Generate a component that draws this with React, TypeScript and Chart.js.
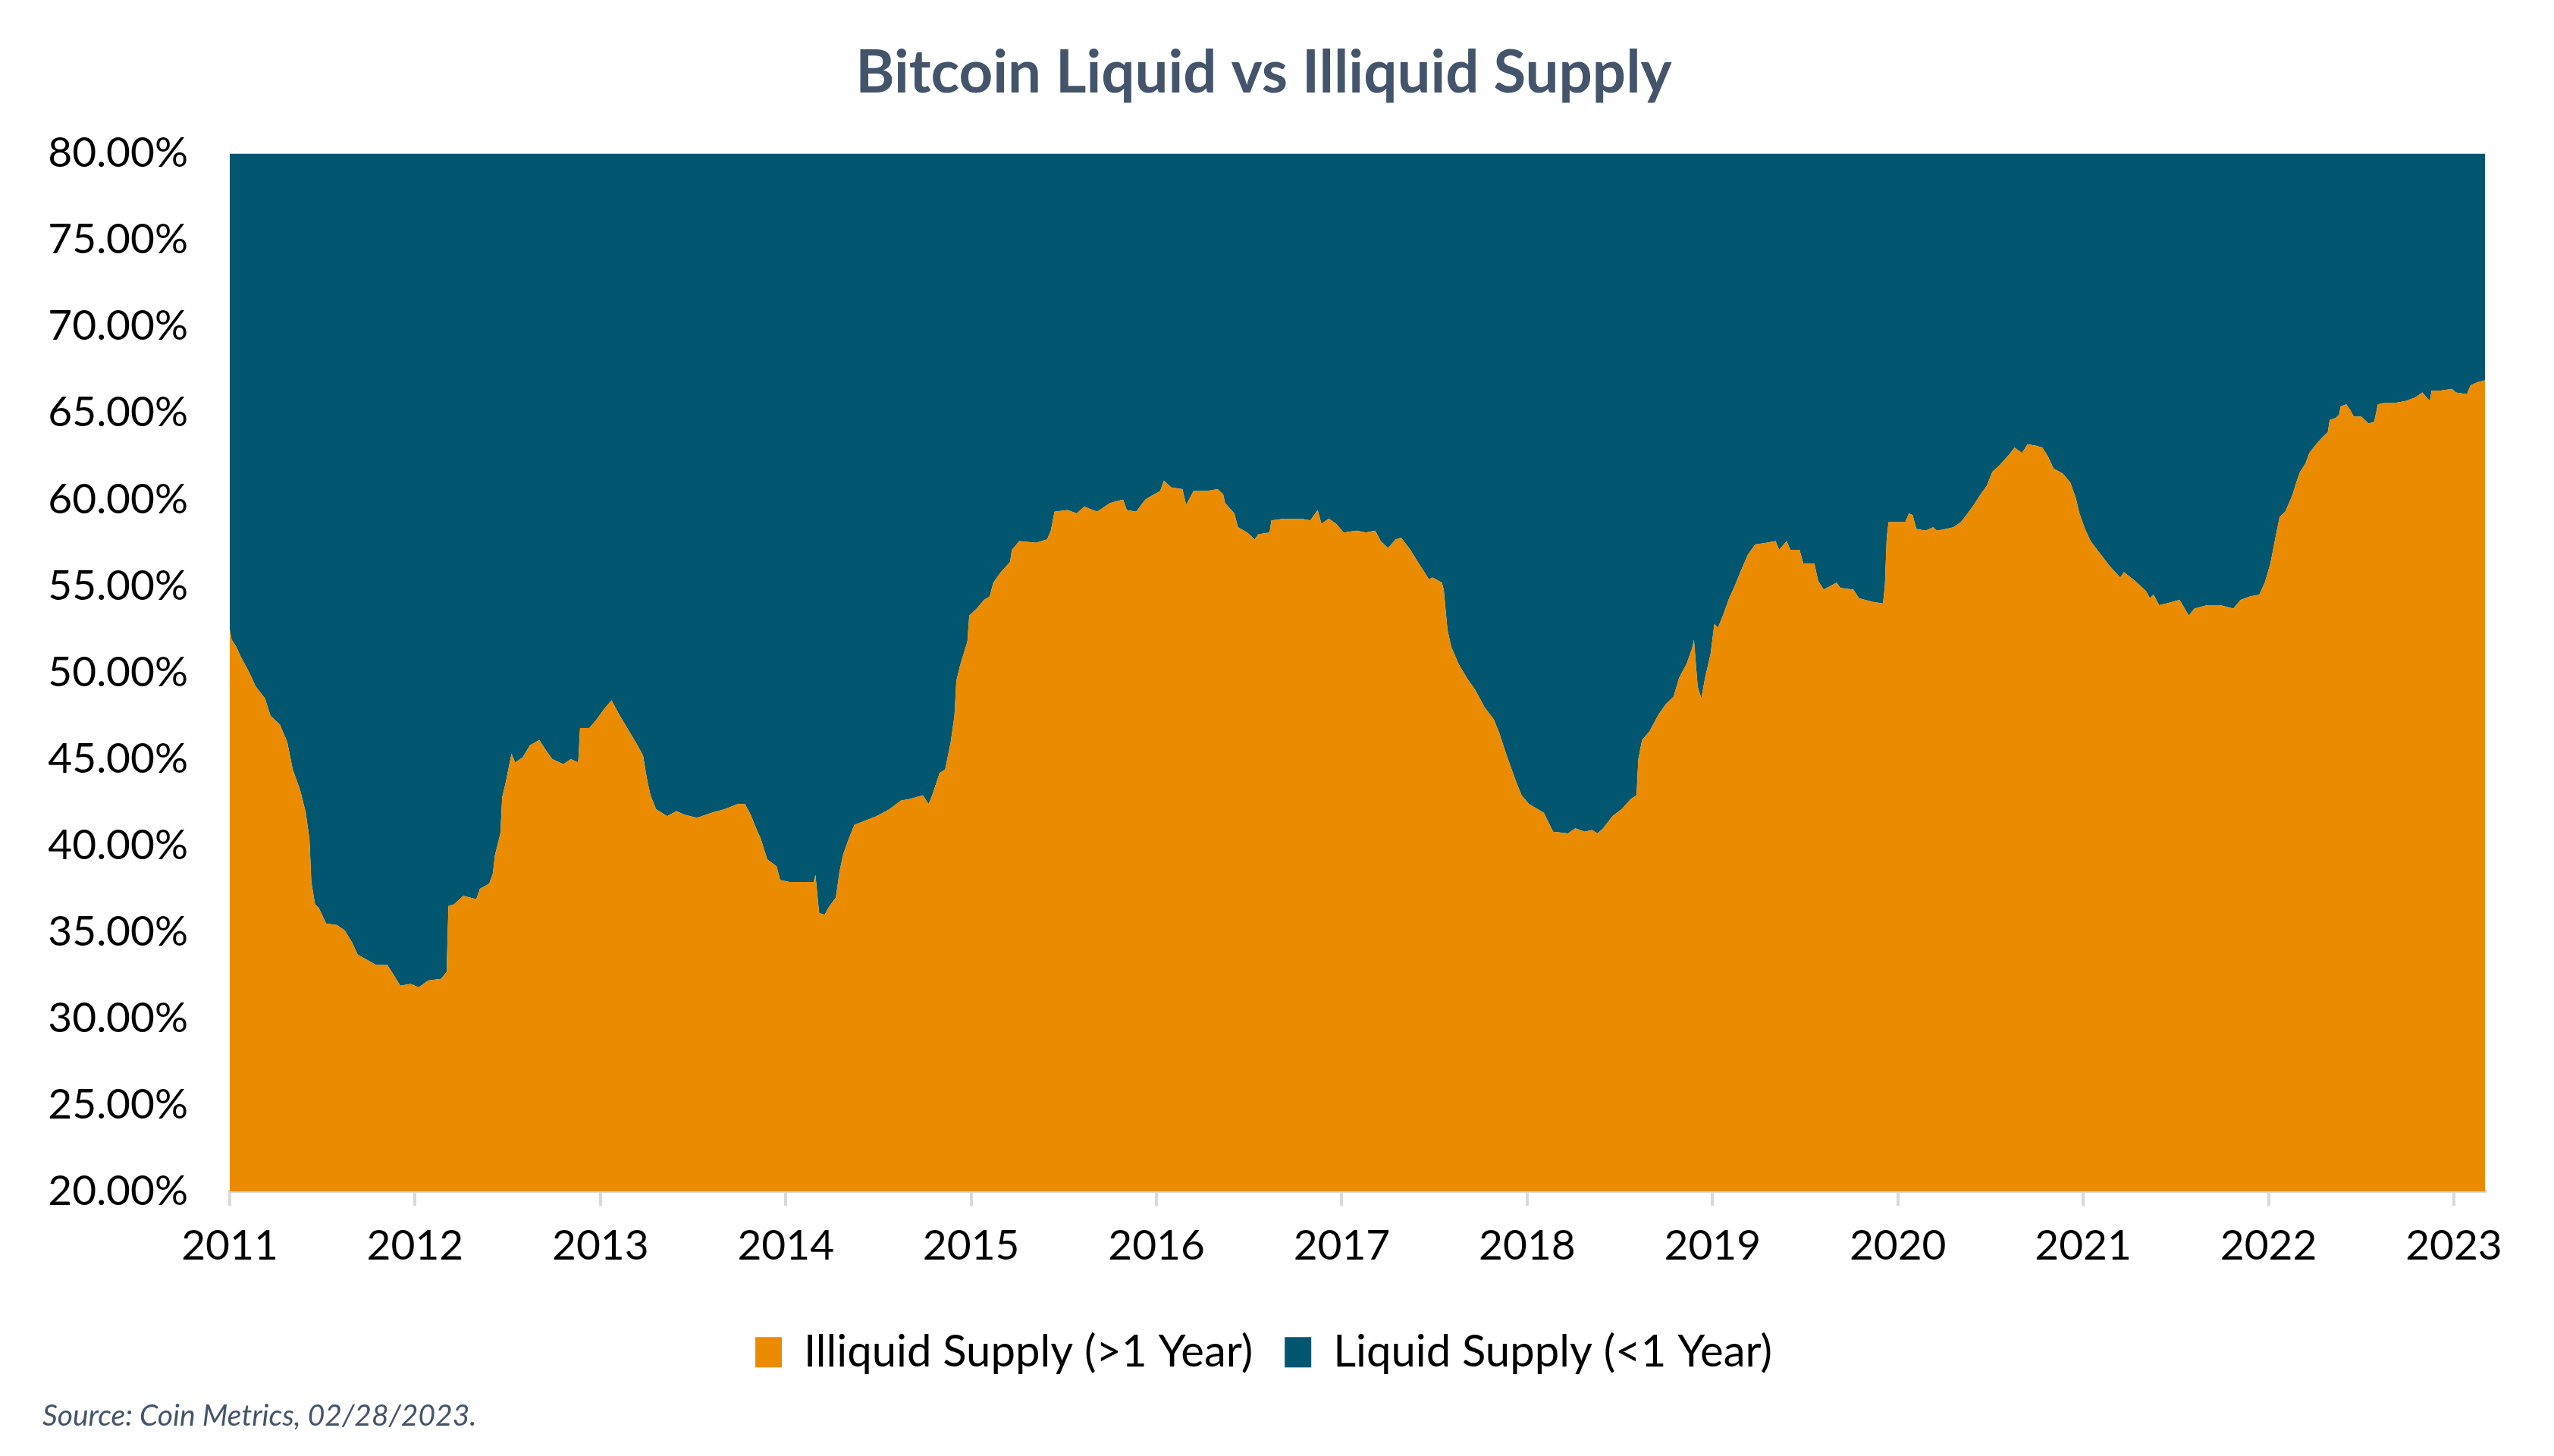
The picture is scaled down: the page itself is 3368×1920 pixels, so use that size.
import React, { useEffect, useRef } from "react";
import { Chart, registerables } from "chart.js";

Chart.register(...registerables);

const chartTitle = "Bitcoin Liquid vs Illiquid Supply";
const sourceNote = "Source: Coin Metrics, 02/28/2023.";
const seriesLabels = ["Illiquid Supply (>1 Year)", "Liquid Supply (<1 Year)"];
const yearTicks = [2011, 2012, 2013, 2014, 2015, 2016, 2017, 2018, 2019, 2020, 2021, 2022, 2023];

// Time positions in decimal years (2011.0 = 1 Jan 2011)
const yearPositions = [
  2011.000, 2011.010, 2011.035, 2011.060, 2011.106, 2011.140, 2011.190, 2011.220, 2011.270, 2011.310,
  2011.340, 2011.380, 2011.410, 2011.430, 2011.440, 2011.460, 2011.480, 2011.520, 2011.580, 2011.620,
  2011.660, 2011.690, 2011.740, 2011.790, 2011.850, 2011.880, 2011.920, 2011.976, 2012.020, 2012.070,
  2012.140, 2012.170, 2012.180, 2012.210, 2012.260, 2012.330, 2012.350, 2012.400, 2012.420, 2012.430,
  2012.460, 2012.470, 2012.490, 2012.520, 2012.540, 2012.580, 2012.620, 2012.670, 2012.700, 2012.740,
  2012.800, 2012.840, 2012.880, 2012.890, 2012.940, 2012.980, 2013.020, 2013.060, 2013.100, 2013.150,
  2013.200, 2013.230, 2013.250, 2013.270, 2013.300, 2013.360, 2013.410, 2013.450, 2013.520, 2013.600,
  2013.670, 2013.740, 2013.780, 2013.810, 2013.840, 2013.865, 2013.900, 2013.950, 2013.970, 2014.020,
  2014.090, 2014.150, 2014.160, 2014.180, 2014.210, 2014.230, 2014.270, 2014.290, 2014.310, 2014.340,
  2014.370, 2014.420, 2014.490, 2014.560, 2014.620, 2014.670, 2014.740, 2014.770, 2014.790, 2014.830,
  2014.860, 2014.890, 2014.910, 2014.920, 2014.940, 2014.960, 2014.980, 2014.990, 2015.030, 2015.070,
  2015.100, 2015.120, 2015.160, 2015.210, 2015.220, 2015.260, 2015.350, 2015.410, 2015.430, 2015.450,
  2015.520, 2015.570, 2015.610, 2015.680, 2015.750, 2015.820, 2015.840, 2015.890, 2015.940, 2015.970,
  2016.020, 2016.040, 2016.080, 2016.140, 2016.160, 2016.200, 2016.270, 2016.330, 2016.360, 2016.370,
  2016.420, 2016.440, 2016.490, 2016.530, 2016.550, 2016.610, 2016.620, 2016.690, 2016.780, 2016.830,
  2016.870, 2016.890, 2016.930, 2016.970, 2017.010, 2017.080, 2017.130, 2017.180, 2017.210, 2017.250,
  2017.290, 2017.320, 2017.370, 2017.410, 2017.440, 2017.470, 2017.490, 2017.540, 2017.550, 2017.570,
  2017.590, 2017.630, 2017.680, 2017.720, 2017.770, 2017.820, 2017.850, 2017.890, 2017.940, 2017.970,
  2018.010, 2018.090, 2018.140, 2018.220, 2018.260, 2018.310, 2018.350, 2018.380, 2018.410, 2018.460,
  2018.510, 2018.560, 2018.590, 2018.600, 2018.620, 2018.660, 2018.710, 2018.750, 2018.790, 2018.820,
  2018.860, 2018.890, 2018.900, 2018.920, 2018.940, 2018.960, 2018.990, 2019.010, 2019.030, 2019.060,
  2019.090, 2019.120, 2019.150, 2019.190, 2019.230, 2019.290, 2019.340, 2019.360, 2019.400, 2019.420,
  2019.470, 2019.490, 2019.550, 2019.570, 2019.600, 2019.670, 2019.690, 2019.760, 2019.790, 2019.860,
  2019.920, 2019.930, 2019.940, 2019.950, 2020.040, 2020.060, 2020.080, 2020.100, 2020.150, 2020.190,
  2020.210, 2020.260, 2020.300, 2020.340, 2020.370, 2020.410, 2020.440, 2020.480, 2020.510, 2020.550,
  2020.600, 2020.630, 2020.670, 2020.700, 2020.750, 2020.780, 2020.810, 2020.840, 2020.890, 2020.930,
  2020.960, 2020.980, 2021.010, 2021.040, 2021.090, 2021.140, 2021.200, 2021.220, 2021.280, 2021.340,
  2021.360, 2021.380, 2021.410, 2021.450, 2021.520, 2021.570, 2021.600, 2021.670, 2021.740, 2021.810,
  2021.850, 2021.900, 2021.950, 2021.980, 2022.010, 2022.030, 2022.060, 2022.090, 2022.115, 2022.130,
  2022.150, 2022.170, 2022.200, 2022.220, 2022.250, 2022.290, 2022.320, 2022.330, 2022.360, 2022.380,
  2022.390, 2022.420, 2022.440, 2022.460, 2022.500, 2022.540, 2022.570, 2022.590, 2022.630, 2022.690,
  2022.740, 2022.790, 2022.830, 2022.870, 2022.880, 2022.930, 2022.990, 2023.010, 2023.070, 2023.090,
  2023.130, 2023.168,
];

// Illiquid supply share (%)
const illiquidSupply = [
  52.5, 51.9, 51.5, 50.9, 50.0, 49.2, 48.5, 47.5, 47.0, 46.0,
  44.4, 43.2, 41.9, 40.4, 37.9, 36.6, 36.4, 35.5, 35.4, 35.1,
  34.4, 33.7, 33.4, 33.1, 33.1, 32.6, 31.9, 32.0, 31.8, 32.2,
  32.3, 32.7, 36.5, 36.6, 37.1, 36.9, 37.5, 37.8, 38.4, 39.4,
  40.7, 42.8, 43.7, 45.3, 44.8, 45.1, 45.8, 46.1, 45.6, 45.0,
  44.7, 45.0, 44.8, 46.8, 46.8, 47.3, 47.9, 48.4, 47.6, 46.7,
  45.8, 45.2, 43.9, 42.9, 42.1, 41.7, 42.0, 41.8, 41.6, 41.9,
  42.1, 42.4, 42.4, 41.8, 41.0, 40.4, 39.2, 38.8, 38.0, 37.9,
  37.9, 37.9, 38.3, 36.1, 36.0, 36.4, 37.0, 38.5, 39.5, 40.4,
  41.2, 41.4, 41.7, 42.1, 42.6, 42.7, 42.9, 42.4, 42.9, 44.2,
  44.4, 46.0, 47.5, 49.5, 50.4, 51.1, 51.8, 53.3, 53.7, 54.2,
  54.4, 55.2, 55.8, 56.4, 57.1, 57.6, 57.5, 57.7, 58.2, 59.3,
  59.4, 59.2, 59.6, 59.3, 59.8, 60.0, 59.4, 59.3, 60.0, 60.2,
  60.5, 61.1, 60.7, 60.6, 59.7, 60.5, 60.5, 60.6, 60.3, 59.8,
  59.2, 58.4, 58.1, 57.7, 58.0, 58.1, 58.8, 58.9, 58.9, 58.8,
  59.4, 58.6, 58.9, 58.6, 58.1, 58.2, 58.1, 58.2, 57.6, 57.2,
  57.7, 57.8, 57.1, 56.4, 55.9, 55.4, 55.5, 55.2, 54.8, 52.5,
  51.5, 50.5, 49.6, 49.0, 48.0, 47.3, 46.5, 45.2, 43.7, 42.9,
  42.4, 41.9, 40.8, 40.7, 41.0, 40.8, 40.9, 40.7, 41.0, 41.7,
  42.1, 42.7, 42.9, 45.0, 46.1, 46.6, 47.6, 48.2, 48.6, 49.7,
  50.5, 51.4, 51.9, 49.2, 48.5, 49.7, 51.1, 52.8, 52.6, 53.4,
  54.3, 55.0, 55.8, 56.8, 57.4, 57.5, 57.6, 57.1, 57.6, 57.1,
  57.1, 56.3, 56.3, 55.3, 54.8, 55.2, 54.9, 54.8, 54.3, 54.1,
  54.0, 55.0, 57.8, 58.7, 58.7, 59.2, 59.1, 58.3, 58.2, 58.4,
  58.2, 58.3, 58.4, 58.7, 59.1, 59.7, 60.2, 60.8, 61.6, 62.0,
  62.6, 63.0, 62.7, 63.2, 63.1, 63.0, 62.5, 61.8, 61.5, 61.0,
  60.1, 59.2, 58.3, 57.6, 56.9, 56.2, 55.5, 55.8, 55.3, 54.7,
  54.3, 54.5, 53.9, 54.0, 54.2, 53.3, 53.7, 53.9, 53.9, 53.7,
  54.2, 54.4, 54.5, 55.2, 56.3, 57.4, 59.0, 59.3, 59.9, 60.3,
  61.0, 61.6, 62.1, 62.7, 63.1, 63.6, 63.9, 64.6, 64.7, 64.9,
  65.4, 65.5, 65.2, 64.8, 64.8, 64.4, 64.5, 65.5, 65.6, 65.6,
  65.7, 65.9, 66.2, 65.7, 66.3, 66.3, 66.4, 66.2, 66.1, 66.6,
  66.8, 66.9,
];

// Liquid supply share (%), stacked on top of the illiquid share
const liquidSupply = [
  47.5, 48.1, 48.5, 49.1, 50.0, 50.8, 51.5, 52.5, 53.0, 54.0,
  55.6, 56.8, 58.1, 59.6, 62.1, 63.4, 63.6, 64.5, 64.6, 64.9,
  65.6, 66.3, 66.6, 66.9, 66.9, 67.4, 68.1, 68.0, 68.2, 67.8,
  67.7, 67.3, 63.5, 63.4, 62.9, 63.1, 62.5, 62.2, 61.6, 60.6,
  59.3, 57.2, 56.3, 54.7, 55.2, 54.9, 54.2, 53.9, 54.4, 55.0,
  55.3, 55.0, 55.2, 53.2, 53.2, 52.7, 52.1, 51.6, 52.4, 53.3,
  54.2, 54.8, 56.1, 57.1, 57.9, 58.3, 58.0, 58.2, 58.4, 58.1,
  57.9, 57.6, 57.6, 58.2, 59.0, 59.6, 60.8, 61.2, 62.0, 62.1,
  62.1, 62.1, 61.7, 63.9, 64.0, 63.6, 63.0, 61.5, 60.5, 59.6,
  58.8, 58.6, 58.3, 57.9, 57.4, 57.3, 57.1, 57.6, 57.1, 55.8,
  55.6, 54.0, 52.5, 50.5, 49.6, 48.9, 48.2, 46.7, 46.3, 45.8,
  45.6, 44.8, 44.2, 43.6, 42.9, 42.4, 42.5, 42.3, 41.8, 40.7,
  40.6, 40.8, 40.4, 40.7, 40.2, 40.0, 40.6, 40.7, 40.0, 39.8,
  39.5, 38.9, 39.3, 39.4, 40.3, 39.5, 39.5, 39.4, 39.7, 40.2,
  40.8, 41.6, 41.9, 42.3, 42.0, 41.9, 41.2, 41.1, 41.1, 41.2,
  40.6, 41.4, 41.1, 41.4, 41.9, 41.8, 41.9, 41.8, 42.4, 42.8,
  42.3, 42.2, 42.9, 43.6, 44.1, 44.6, 44.5, 44.8, 45.2, 47.5,
  48.5, 49.5, 50.4, 51.0, 52.0, 52.7, 53.5, 54.8, 56.3, 57.1,
  57.6, 58.1, 59.2, 59.3, 59.0, 59.2, 59.1, 59.3, 59.0, 58.3,
  57.9, 57.3, 57.1, 55.0, 53.9, 53.4, 52.4, 51.8, 51.4, 50.3,
  49.5, 48.6, 48.1, 50.8, 51.5, 50.3, 48.9, 47.2, 47.4, 46.6,
  45.7, 45.0, 44.2, 43.2, 42.6, 42.5, 42.4, 42.9, 42.4, 42.9,
  42.9, 43.7, 43.7, 44.7, 45.2, 44.8, 45.1, 45.2, 45.7, 45.9,
  46.0, 45.0, 42.2, 41.3, 41.3, 40.8, 40.9, 41.7, 41.8, 41.6,
  41.8, 41.7, 41.6, 41.3, 40.9, 40.3, 39.8, 39.2, 38.4, 38.0,
  37.4, 37.0, 37.3, 36.8, 36.9, 37.0, 37.5, 38.2, 38.5, 39.0,
  39.9, 40.8, 41.7, 42.4, 43.1, 43.8, 44.5, 44.2, 44.7, 45.3,
  45.7, 45.5, 46.1, 46.0, 45.8, 46.7, 46.3, 46.1, 46.1, 46.3,
  45.8, 45.6, 45.5, 44.8, 43.7, 42.6, 41.0, 40.7, 40.1, 39.7,
  39.0, 38.4, 37.9, 37.3, 36.9, 36.4, 36.1, 35.4, 35.3, 35.1,
  34.6, 34.5, 34.8, 35.2, 35.2, 35.6, 35.5, 34.5, 34.4, 34.4,
  34.3, 34.1, 33.8, 34.3, 33.7, 33.7, 33.6, 33.8, 33.9, 33.4,
  33.2, 33.1,
];

const yAxisMin = 20;
const yAxisMax = 80;
const yAxisStep = 5;

const ORANGE = "#eb8b00";
const BLUE = "#02566f";
const SLATE = "#44546a";
const FONT = "Lato";

export default function App() {
  const canvasRef = useRef<HTMLCanvasElement | null>(null);

  useEffect(() => {
    const canvas = canvasRef.current;
    if (!canvas) return;
    const chart = new Chart(canvas, {
      type: "line",
      data: {
        datasets: [
          {
            label: seriesLabels[0],
            data: yearPositions.map((x, i) => ({ x, y: illiquidSupply[i] })),
            backgroundColor: ORANGE,
            borderColor: ORANGE,
            borderWidth: 0,
            pointRadius: 0,
            pointHoverRadius: 0,
            tension: 0,
            fill: "origin",
          },
          {
            label: seriesLabels[1],
            data: yearPositions.map((x, i) => ({ x, y: liquidSupply[i] })),
            backgroundColor: BLUE,
            borderColor: BLUE,
            borderWidth: 0,
            pointRadius: 0,
            pointHoverRadius: 0,
            tension: 0,
            fill: "-1",
          },
        ],
      },
      options: {
        responsive: true,
        maintainAspectRatio: false,
        animation: false,
        events: [],
        layout: { padding: { top: 0, left: 48, right: 83, bottom: 0 } },
        plugins: {
          title: {
            display: true,
            text: chartTitle,
            color: SLATE,
            font: { family: FONT, size: 78, weight: "bold" },
            padding: { top: 42, bottom: 59 },
          },
          subtitle: {
            display: true,
            text: sourceNote,
            position: "bottom",
            align: "start",
            color: SLATE,
            font: { family: FONT, size: 39, style: "italic" },
            padding: { top: 22, bottom: 21 },
          },
          legend: {
            display: true,
            position: "bottom",
            labels: {
              boxWidth: 35,
              boxHeight: 40,
              padding: 42,
              color: "#000000",
              font: { family: FONT, size: 58 },
            },
          },
          tooltip: { enabled: false },
        },
        scales: {
          x: {
            type: "linear",
            min: yearPositions[0],
            max: yearPositions[yearPositions.length - 1],
            afterBuildTicks: (scale: any) => {
              scale.ticks = yearTicks.map((value) => ({ value }));
            },
            afterFit: (scale: any) => {
              scale.height = 141;
            },
            grid: {
              drawOnChartArea: false,
              drawTicks: true,
              tickLength: 19,
              color: "#d9d9d9",
              lineWidth: 4,
            },
            border: { display: true, color: "#d9d9d9", width: 4 },
            ticks: {
              autoSkip: false,
              maxRotation: 0,
              padding: 20,
              color: "#000000",
              font: { family: FONT, size: 55 },
              callback: (v: any) => String(Math.round(Number(v))),
            },
          },
          y: {
            stacked: true,
            min: yAxisMin,
            max: yAxisMax,
            afterFit: (scale: any) => {
              scale.width = 247;
            },
            grid: { display: false, drawTicks: false },
            border: { display: false },
            ticks: {
              stepSize: yAxisStep,
              padding: 55,
              color: "#000000",
              font: { family: FONT, size: 55 },
              callback: (v: any) => Number(v).toFixed(2) + "%",
            },
          },
        },
      },
    });
    return () => chart.destroy();
  }, []);

  return (
    <div style={{ width: 3352, height: 1904, position: "relative" }}>
      <canvas ref={canvasRef} />
    </div>
  );
}
